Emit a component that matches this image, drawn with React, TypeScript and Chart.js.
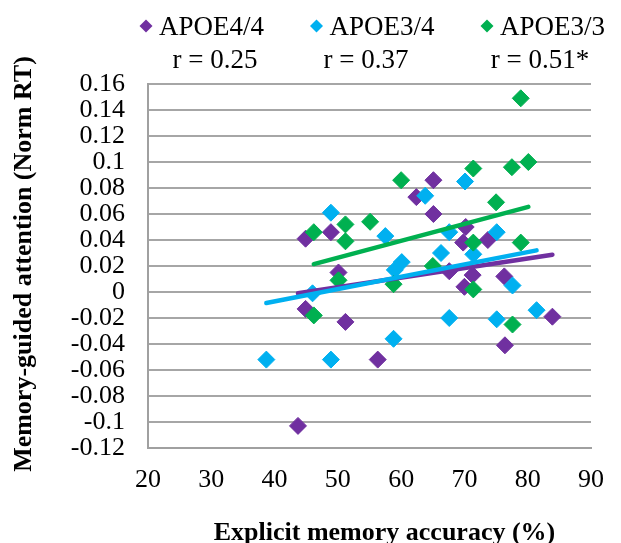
import React, { useEffect, useRef } from "react";
import { Chart, registerables } from "chart.js";

Chart.register(...registerables);

// ---- data ----
const seriesNames = ["APOE4/4", "APOE3/4", "APOE3/3"];
const correlationLabels = ["r = 0.25", "r = 0.37", "r = 0.51*"];
const seriesColors = ["#7030A0", "#00B0F0", "#00B050"];
const xAxisTitle = "Explicit memory accuracy (%)";
const yAxisTitle = "Memory-guided attention (Norm RT)";

const xMin = 20;
const xMax = 90;
const xStep = 10;
const yMin = -0.12;
const yMax = 0.16;
const yStep = 0.02;

const apoe44Accuracy = [43.7, 44.9, 44.9, 48.9, 50.1, 51.2, 56.3, 62.4, 65.1, 65.1, 67.6, 69.8, 70.2, 70.0, 71.3, 73.7, 76.3, 76.4, 83.9];
const apoe44Attention = [-0.103, 0.041, -0.013, 0.046, 0.015, -0.023, -0.052, 0.073, 0.086, 0.06, 0.016, 0.038, 0.05, 0.004, 0.013, 0.04, 0.012, -0.041, -0.019];

const apoe34Accuracy = [38.7, 46.0, 48.9, 48.9, 57.5, 59.0, 60.1, 58.8, 63.8, 66.3, 67.6, 67.6, 70.1, 71.4, 75.1, 75.1, 77.6, 81.4];
const apoe34Attention = [-0.052, -0.001, 0.061, -0.052, 0.043, 0.017, 0.023, -0.036, 0.074, 0.03, 0.046, -0.02, 0.085, 0.029, 0.046, -0.021, 0.005, -0.014];

const apoe33Accuracy = [46.2, 46.2, 50.1, 51.2, 51.2, 55.1, 58.8, 60.0, 65.0, 71.4, 71.4, 71.4, 75.0, 77.5, 78.9, 80.1, 78.9, 77.6];
const apoe33Attention = [0.046, -0.018, 0.009, 0.052, 0.039, 0.054, 0.006, 0.086, 0.02, 0.095, 0.038, 0.002, 0.069, 0.096, 0.149, 0.1, 0.038, -0.025];

// trendline end points
const apoe44TrendX = [43.7, 83.9];
const apoe44TrendY = [-0.001, 0.0287];
const apoe34TrendX = [38.7, 81.4];
const apoe34TrendY = [-0.0085, 0.032];
const apoe33TrendX = [46.2, 80.1];
const apoe33TrendY = [0.0215, 0.0655];

const FONT = '"Liberation Serif", "Times New Roman", serif';

function pts(xs: number[], ys: number[]) {
  return xs.map((x, i) => ({ x, y: ys[i] }));
}

const textPlugin = {
  id: "customText",
  afterDraw(chart: any) {
    const ctx = chart.ctx as CanvasRenderingContext2D;
    const area = chart.chartArea;
    ctx.save();
    // legend
    const legendX = [146, 316.5, 487];
    const corrX = [215, 366, 540];
    for (let i = 0; i < seriesNames.length; i++) {
      const cx = legendX[i];
      const cy = 26;
      const h = 6.5;
      ctx.fillStyle = seriesColors[i];
      ctx.beginPath();
      ctx.moveTo(cx, cy - h);
      ctx.lineTo(cx + h, cy);
      ctx.lineTo(cx, cy + h);
      ctx.lineTo(cx - h, cy);
      ctx.closePath();
      ctx.fill();
      ctx.fillStyle = "#000";
      ctx.font = `27px ${FONT}`;
      ctx.textAlign = "left";
      ctx.textBaseline = "alphabetic";
      ctx.fillText(seriesNames[i], cx + 13, 35);
      ctx.textAlign = "center";
      ctx.fillText(correlationLabels[i], corrX[i], 68);
    }
    // axis titles
    ctx.fillStyle = "#000";
    ctx.font = `bold 26px ${FONT}`;
    ctx.textAlign = "center";
    ctx.textBaseline = "alphabetic";
    ctx.fillText(xAxisTitle, (area.left + area.right) / 2 + 15, 540);
    ctx.translate(24, (area.top + area.bottom) / 2 - 2);
    ctx.rotate(-Math.PI / 2);
    ctx.textBaseline = "middle";
    ctx.fillText(yAxisTitle, 0, 0);
    ctx.restore();
  },
};

export default function App() {
  const ref = useRef<HTMLCanvasElement>(null);
  useEffect(() => {
    document.body.style.margin = "0";
    const canvas = ref.current!;
    const scatterSet = (i: number, xs: number[], ys: number[]) => ({
      label: seriesNames[i],
      data: pts(xs, ys),
      pointStyle: "rectRot",
      pointRadius: 8.5,
      pointHoverRadius: 8.5,
      backgroundColor: seriesColors[i],
      borderColor: seriesColors[i],
      borderWidth: 1,
      showLine: false,
      order: 3 - i,
    });
    const trendSet = (i: number, xs: number[], ys: number[]) => ({
      label: seriesNames[i] + " trend",
      data: pts(xs, ys),
      showLine: true,
      pointRadius: 0,
      pointHoverRadius: 0,
      borderColor: seriesColors[i],
      backgroundColor: seriesColors[i],
      borderWidth: 4.5,
      borderCapStyle: "round",
      fill: false,
      order: -1 - i,
    });
    const chart = new Chart(canvas, {
      type: "scatter",
      data: {
        datasets: [
          scatterSet(0, apoe44Accuracy, apoe44Attention),
          scatterSet(1, apoe34Accuracy, apoe34Attention),
          scatterSet(2, apoe33Accuracy, apoe33Attention),
          trendSet(0, apoe44TrendX, apoe44TrendY),
          trendSet(1, apoe34TrendX, apoe34TrendY),
          trendSet(2, apoe33TrendX, apoe33TrendY),
        ] as any,
      },
      options: {
        responsive: false,
        animation: false,
        devicePixelRatio: 1,
        layout: { padding: { left: 0, top: 84, right: 15, bottom: 0 }, autoPadding: false },
        plugins: {
          legend: { display: false },
          tooltip: { enabled: false },
          title: { display: false },
        },
        scales: {
          x: {
            type: "linear",
            min: xMin,
            max: xMax,
            ticks: {
              stepSize: xStep,
              autoSkip: false,
              maxRotation: 0,
              color: "#000",
              font: { family: FONT, size: 26 },
              padding: 17,
            },
            grid: { display: false, drawTicks: false },
            border: { display: true, color: "#A0A0A0", width: 2 },
            afterFit: (s: any) => {
              s.height = 95;
            },
          },
          y: {
            type: "linear",
            min: yMin,
            max: yMax,
            ticks: {
              stepSize: yStep,
              autoSkip: false,
              color: "#000",
              font: { family: FONT, size: 26 },
              padding: 23,
              callback: (v: any) => String(Math.round(Number(v) * 100) / 100),
            },
            grid: { color: "#A6A6A6", lineWidth: 2, drawTicks: false },
            border: { display: true, color: "#A0A0A0", width: 2 },
            afterFit: (s: any) => {
              s.width = 148;
            },
          },
        },
      } as any,
      plugins: [textPlugin],
    });
    return () => chart.destroy();
  }, []);
  return <canvas ref={ref} width={621} height={543} style={{ display: "block" }} />;
}
